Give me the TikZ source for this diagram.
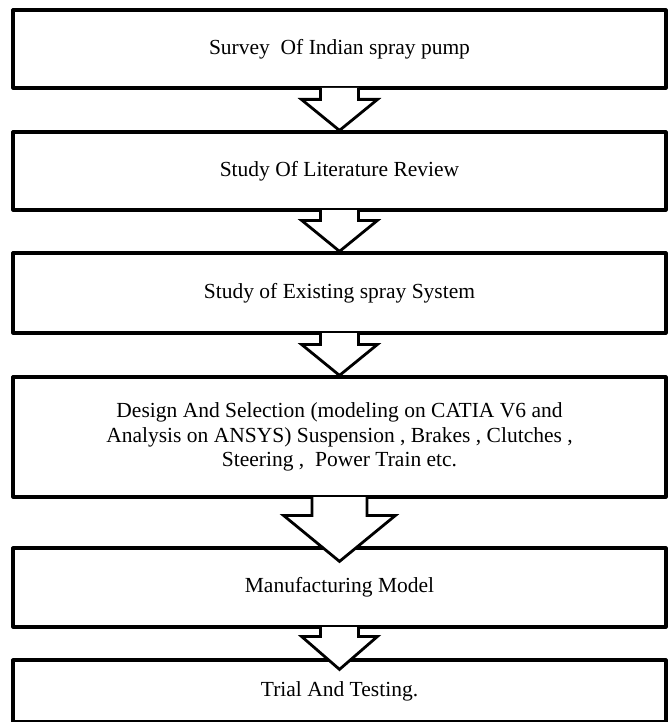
\documentclass[tikz,border=0pt]{standalone}
\usepackage{fontspec}
\setmainfont{Liberation Serif}
\usetikzlibrary{calc}

\begin{document}
\begin{tikzpicture}[
  x=1pt, y=-1pt,
  font=\fontsize{21.5}{24.5}\selectfont,
  stage/.style={draw, line width=3.2pt, line join=round, minimum width=653pt,
                inner sep=0pt, align=center, fill=white},
  flow/.style={draw, fill=white, line width=2.8pt},
]
  \useasboundingbox (0,0) rectangle (671,722);

  % stages, top to bottom
  \node[stage, minimum height=78pt] (b1) at (339.5,49) {Survey\ \ Of Indian spray pump};
  \node[stage, minimum height=78pt] (b2) at (339.5,171) {Study Of Literature Review};
  \node[stage, minimum height=80pt] (b3) at (339.5,293) {Study of Existing spray System};
  \node[stage, minimum height=120pt] (b4) at (339.5,437)
    {Design And Selection (modeling on CATIA V6 and\\
     Analysis on ANSYS) Suspension , Brakes , Clutches ,\\
     Steering ,\ \ Power Train etc.};
  \node[stage, minimum height=79pt] (b5) at (339.5,587.5) {Manufacturing Model};
  \node[stage, minimum height=62pt] (b6) at (339.5,691) {Trial And Testing.};

  % tips of the block arrows
  \coordinate (t1) at (b2.north);
  \coordinate (t2) at (b3.north);
  \coordinate (t3) at (b4.north);
  \coordinate (t4) at ([yshift=-15pt]b5.north);
  \coordinate (t5) at ([yshift=-11pt]b6.north);

  % block arrows: from/tip/half stem/half wing/head
  \foreach \from/\tip/\s/\w/\h in {b1/t1/19/38/31, b2/t2/19/38/31, b3/t3/19/38/31,
                                   b4/t4/27.5/56/46, b5/t5/19/38/33}
    \draw[flow] let \p1=(\from.south), \p2=(\tip) in
      (\x2-\s pt,\y1+1.6pt) -- (\x2-\s pt,\y2+\h pt) -- (\x2-\w pt,\y2+\h pt)
      -- (\p2) -- (\x2+\w pt,\y2+\h pt) -- (\x2+\s pt,\y2+\h pt)
      -- (\x2+\s pt,\y1+1.6pt);
\end{tikzpicture}
\end{document}
